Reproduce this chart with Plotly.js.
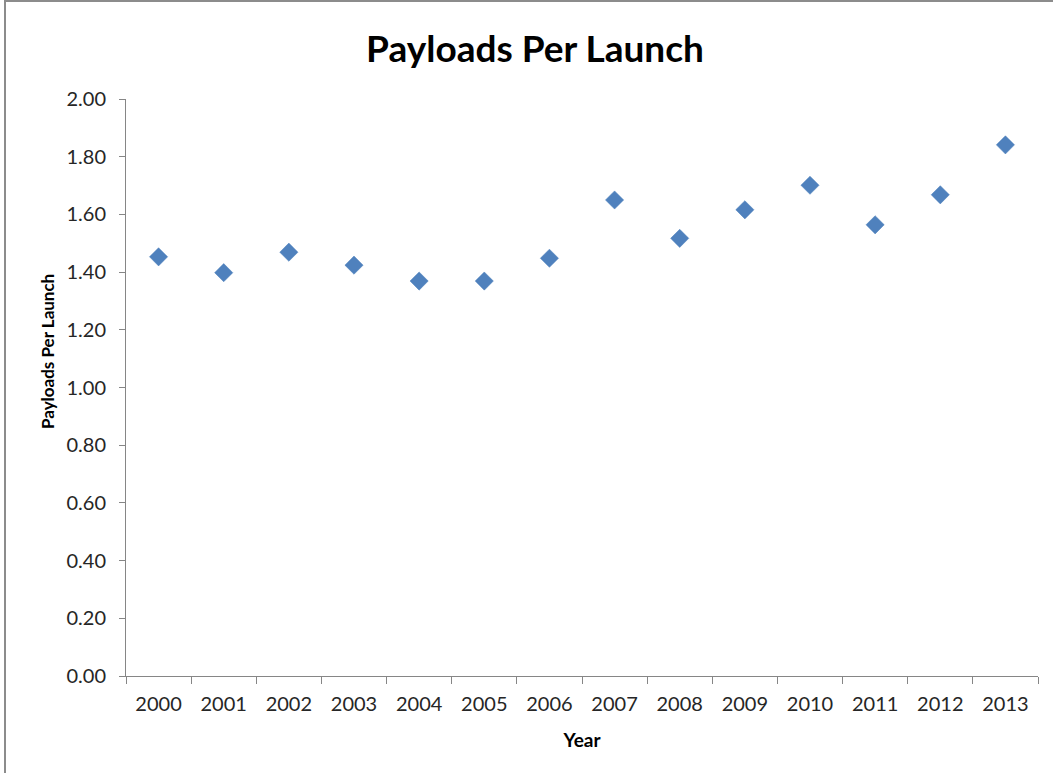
<!DOCTYPE html>
<html>
<head>
<meta charset="utf-8">
<script src="https://cdn.plot.ly/plotly-3.0.1.min.js"></script>
<style>
  html, body { margin: 0; padding: 0; background: #ffffff; }
  #wrap { position: relative; width: 1053px; height: 773px; overflow: hidden; }
  #chart { width: 1053px; height: 773px; }
  #frame {
    position: absolute; left: 4px; top: 0px; width: 1100px; height: 800px;
    border-left: 2px solid #8c8c8c; border-top: 2px solid #8c8c8c;
    pointer-events: none;
  }
</style>
</head>
<body>
<div id="wrap">
  <div id="chart"></div>
  <div id="frame"></div>
</div>
<script>
// Payloads carried per orbital launch, by year
const years = ['2000', '2001', '2002', '2003', '2004', '2005', '2006',
               '2007', '2008', '2009', '2010', '2011', '2012', '2013'];
const payloadsPerLaunch = [1.453, 1.398, 1.469, 1.424, 1.369, 1.369, 1.448,
                           1.650, 1.517, 1.616, 1.701, 1.564, 1.668, 1.841];
const yTickValues = [0, 0.2, 0.4, 0.6, 0.8, 1.0, 1.2, 1.4, 1.6, 1.8, 2.0];

const FONT = 'Lato, "Open Sans", "DejaVu Sans", sans-serif';
const AXIS_GREY = '#868686';

const trace = {
  type: 'scatter',
  mode: 'markers',
  x: years,
  y: payloadsPerLaunch,
  marker: {
    symbol: 'diamond',
    size: 14,
    color: '#4f81bd',
    line: { color: '#4a7ebb', width: 0.5 }
  },
  hoverinfo: 'x+y'
};

const layout = {
  width: 1053,
  height: 773,
  paper_bgcolor: '#ffffff',
  plot_bgcolor: '#ffffff',
  margin: { l: 126, r: 15, t: 99, b: 97, pad: 0 },
  showlegend: false,
  font: { family: FONT, color: '#262626' },
  title: {
    text: '<b>Payloads Per Launch</b>',
    font: { family: FONT, size: 37, color: '#000000' },
    xref: 'container', yref: 'container',
    x: 535 / 1053, y: 1 - 49 / 773,
    xanchor: 'center', yanchor: 'middle'
  },
  xaxis: {
    type: 'category',
    range: [-0.5, years.length - 0.5],
    tickson: 'boundaries',
    ticks: 'outside',
    ticklen: 7,
    tickwidth: 1,
    tickcolor: AXIS_GREY,
    ticklabelstandoff: 10,
    showline: true,
    linecolor: AXIS_GREY,
    linewidth: 1,
    showgrid: false,
    zeroline: false,
    tickfont: { family: FONT, size: 20, color: '#262626' },
    title: {
      text: '<b>Year</b>',
      font: { family: FONT, size: 19, color: '#000000' },
      standoff: 19
    },
    automargin: false,
    fixedrange: true
  },
  yaxis: {
    range: [0, 2],
    tickmode: 'array',
    tickvals: yTickValues,
    tickformat: '.2f',
    ticks: 'outside',
    ticklen: 6,
    tickwidth: 1,
    tickcolor: AXIS_GREY,
    ticklabelstandoff: 9,
    showline: true,
    linecolor: AXIS_GREY,
    linewidth: 1,
    showgrid: false,
    zeroline: false,
    tickfont: { family: FONT, size: 20, color: '#262626' },
    automargin: false,
    fixedrange: true
  },
  annotations: [{
    text: '<b>Payloads Per Launch</b>',
    textangle: -90,
    xref: 'paper', yref: 'paper',
    x: (47 - 126) / 912, y: (676 - 352) / 577,
    xanchor: 'center', yanchor: 'middle',
    showarrow: false,
    font: { family: FONT, size: 17, color: '#000000' }
  }]
};

Plotly.newPlot('chart', [trace], layout, { displayModeBar: false, staticPlot: true });
</script>
</body>
</html>
